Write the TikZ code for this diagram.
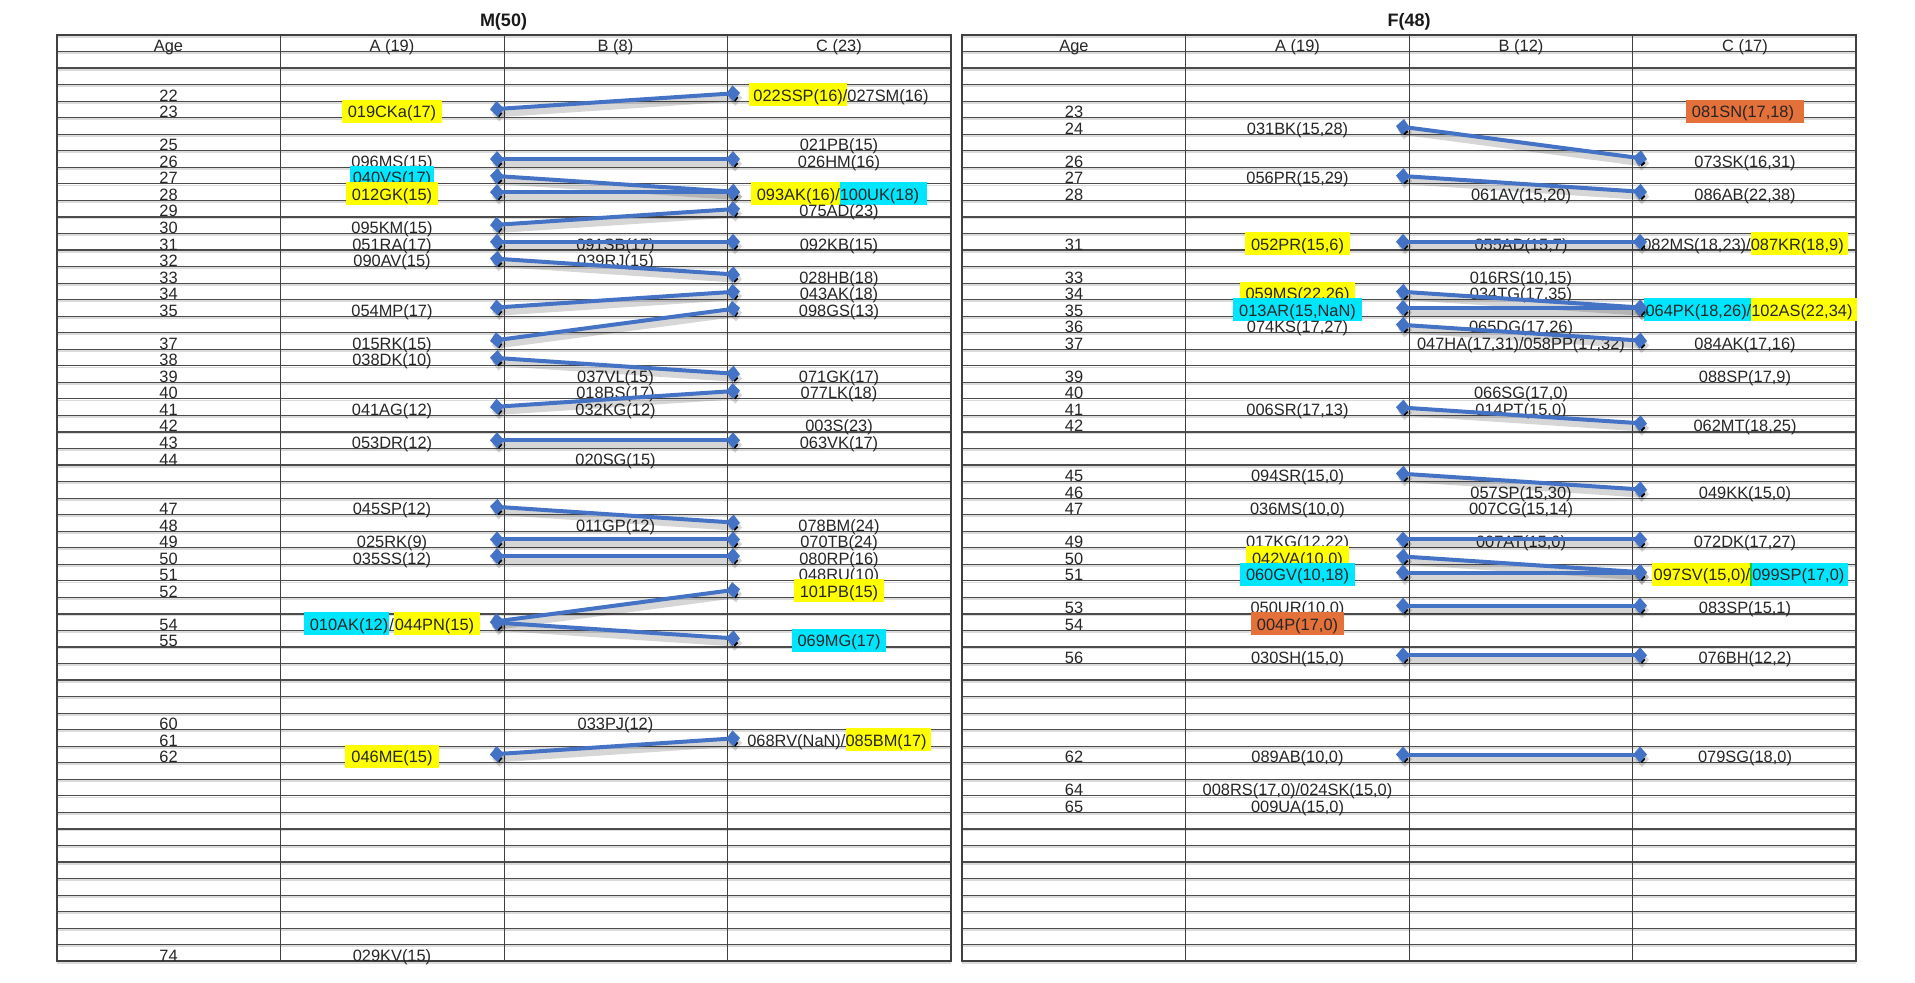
\documentclass[tikz,border=0pt]{standalone}
\usepackage{fontspec}
\setmainfont{Liberation Sans}
\usepackage{tikz}
\usetikzlibrary{arrows.meta}
\definecolor{hlyellow}{RGB}{255,255,0}
\definecolor{hlcyan}{RGB}{0,230,255}
\definecolor{hlorange}{RGB}{228,112,58}
\definecolor{hlgreen}{RGB}{30,200,40}
\definecolor{linkblue}{RGB}{68,114,196}
% highlighted text: colour, left pad, right pad, text
\newcommand{\hlbox}[4]{{\setlength{\fboxsep}{0pt}\colorbox{#1}{\rule[-2.5pt]{0pt}{11.5pt}\hspace{#2}#4\hspace{#3}}}}
\newcommand{\hl}[2]{\hlbox{#1}{3pt}{3pt}{#2}}
% cell text sitting on the bottom rule of the row of an age
\newcommand{\entry}[4]{\node[cell] (#1) at (#2,{35+16.54*(#3-18)}) {#4};}
\tikzset{
  cell/.style={anchor=base, inner sep=0pt, font=\fontsize{8.2}{9}\selectfont, text=black!85},
  title/.style={font=\fontsize{9}{10}\selectfont\bfseries, text=black!90, inner sep=0pt},
  gridrule/.style={draw=black!70, line width=0.6pt,
    preaction={draw=black!14, line width=0.9pt, transform canvas={yshift=-0.8pt}}},
  colrule/.style={draw=black!75, line width=0.5pt},
  frame/.style={draw=black!75, line width=0.9pt},
  link/.style={draw=linkblue, line width=2pt,
    {Diamond[length=7pt,width=8pt]}-{Diamond[length=7pt,width=8pt]},
    preaction={draw=black, draw opacity=0.16, line width=3.6pt,
      transform canvas={xshift=1pt,yshift=-2.3pt}}}
}

\begin{document}
\begin{tikzpicture}[x=0.5pt, y=-0.5pt]
  \useasboundingbox (0,0) rectangle (1915,982);

  % grids of both tables
  \foreach \xo in {57,962} {
    \foreach \i in {0,...,56}
      \draw[gridrule] (\xo,{35+16.54*\i}) -- ({\xo+894},{35+16.54*\i});
    \foreach \j in {1,2,3}
      \draw[colrule] ({\xo+223.5*\j},35) -- ({\xo+223.5*\j},961.2);
    \draw[frame] (\xo,35) rectangle ({\xo+894},961.2);
  }

  % titles and headers
  \node[title] (mtitle) at (503.5,22) {M(50)};
  \node[title] (ftitle) at (1409,22) {F(48)};
  \entry{mhage}{168.5}{19}{Age}
  \entry{mhA}{392}{19}{A (19)}
  \entry{mhB}{615.5}{19}{B (8)}
  \entry{mhC}{839}{19}{C (23)}
  \entry{fhage}{1074}{19}{Age}
  \entry{fhA}{1297.5}{19}{A (19)}
  \entry{fhB}{1521}{19}{B (12)}
  \entry{fhC}{1745}{19}{C (17)}

  % ages
  \foreach \a in {22,23,25,26,27,28,29,30,31,32,33,34,35,37,38,39,40,41,42,43,44,47,48,49,50,51,52,54,55,60,61,62,74} {
    \entry{mage\a}{168.5}{\a}{\a}
  }
  \foreach \a in {23,24,26,27,28,31,33,34,35,36,37,39,40,41,42,45,46,47,49,50,51,53,54,56,62,64,65} {
    \entry{fage\a}{1074}{\a}{\a}
  }

  % M, column A
  \entry{mA23}{392}{23}{\hl{hlyellow}{019CKa(17)}}
  \entry{mA26}{392}{26}{096MS(15)}
  \entry{mA27}{392}{27}{\hlbox{hlcyan}{1.5pt}{1.5pt}{040VS(17)}}
  \entry{mA28}{392}{28}{\hl{hlyellow}{012GK(15)}}
  \entry{mA30}{392}{30}{095KM(15)}
  \entry{mA31}{392}{31}{051RA(17)}
  \entry{mA32}{392}{32}{090AV(15)}
  \entry{mA35}{392}{35}{054MP(17)}
  \entry{mA37}{392}{37}{015RK(15)}
  \entry{mA38}{392}{38}{038DK(10)}
  \entry{mA41}{392}{41}{041AG(12)}
  \entry{mA43}{392}{43}{053DR(12)}
  \entry{mA47}{392}{47}{045SP(12)}
  \entry{mA49}{392}{49}{025RK(9)}
  \entry{mA50}{392}{50}{035SS(12)}
  \entry{mA54}{392}{54}{\hlbox{hlcyan}{3pt}{0.5pt}{010AK(12)}/\hlbox{hlyellow}{0.5pt}{3pt}{044PN(15)}}
  \entry{mA62}{392}{62}{\hl{hlyellow}{046ME(15)}}
  \entry{mA74}{392}{74}{029KV(15)}

  % M, column B
  \entry{mB31}{615.5}{31}{091SB(17)}
  \entry{mB32}{615.5}{32}{039RJ(15)}
  \entry{mB39}{615.5}{39}{037VL(15)}
  \entry{mB40}{615.5}{40}{018BS(17)}
  \entry{mB41}{615.5}{41}{032KG(12)}
  \entry{mB44}{615.5}{44}{020SG(15)}
  \entry{mB48}{615.5}{48}{011GP(12)}
  \entry{mB60}{615.5}{60}{033PJ(12)}

  % M, column C
  \entry{mC22}{839}{22}{\hlbox{hlyellow}{2pt}{0pt}{022SSP(16)/}027SM(16)}
  \entry{mC25}{839}{25}{021PB(15)}
  \entry{mC26}{839}{26}{026HM(16)}
  \entry{mC28}{839}{28}{\hlbox{hlyellow}{3pt}{0pt}{093AK(16)/}\hlbox{hlcyan}{0pt}{4pt}{100UK(18)}}
  \entry{mC29}{839}{29}{075AD(23)}
  \entry{mC31}{839}{31}{092KB(15)}
  \entry{mC33}{839}{33}{028HB(18)}
  \entry{mC34}{839}{34}{043AK(18)}
  \entry{mC35}{839}{35}{098GS(13)}
  \entry{mC39}{839}{39}{071GK(17)}
  \entry{mC40}{839}{40}{077LK(18)}
  \entry{mC42}{839}{42}{003S(23)}
  \entry{mC43}{839}{43}{063VK(17)}
  \entry{mC48}{839}{48}{078BM(24)}
  \entry{mC49}{839}{49}{070TB(24)}
  \entry{mC50}{839}{50}{080RP(16)}
  \entry{mC51}{839}{51}{048RU(10)}
  \entry{mC52}{839}{52}{\hl{hlyellow}{101PB(15)}}
  \entry{mC55}{839}{55}{\hl{hlcyan}{069MG(17)}}
  \entry{mC61}{839}{61}{068RV(NaN)/\hlbox{hlyellow}{0pt}{2pt}{085BM(17)}}

  % F, column A
  \entry{fA24}{1297.5}{24}{031BK(15,28)}
  \entry{fA27}{1297.5}{27}{056PR(15,29)}
  \entry{fA31}{1297.5}{31}{\hl{hlyellow}{052PR(15,6)}}
  \entry{fA34}{1297.5}{34}{\hl{hlyellow}{059MS(22,26)}}
  \entry{fA35}{1297.5}{35}{\hl{hlcyan}{013AR(15,NaN)}}
  \entry{fA36}{1297.5}{36}{074KS(17,27)}
  \entry{fA41}{1297.5}{41}{006SR(17,13)}
  \entry{fA45}{1297.5}{45}{094SR(15,0)}
  \entry{fA47}{1297.5}{47}{036MS(10,0)}
  \entry{fA49}{1297.5}{49}{017KG(12,22)}
  \entry{fA50}{1297.5}{50}{\hl{hlyellow}{042VA(10,0)}}
  \entry{fA51}{1297.5}{51}{\hl{hlcyan}{060GV(10,18)}}
  \entry{fA53}{1297.5}{53}{050UR(10,0)}
  \entry{fA54}{1297.5}{54}{\hl{hlorange}{004P(17,0)}}
  \entry{fA56}{1297.5}{56}{030SH(15,0)}
  \entry{fA62}{1297.5}{62}{089AB(10,0)}
  \entry{fA64}{1297.5}{64}{008RS(17,0)/024SK(15,0)}
  \entry{fA65}{1297.5}{65}{009UA(15,0)}

  % F, column B
  \entry{fB28}{1521}{28}{061AV(15,20)}
  \entry{fB31}{1521}{31}{055AD(15,7)}
  \entry{fB33}{1521}{33}{016RS(10,15)}
  \entry{fB34}{1521}{34}{034TG(17,35)}
  \entry{fB36}{1521}{36}{065DG(17,26)}
  \entry{fB37}{1521}{37}{047HA(17,31)/058PP(17,32)}
  \entry{fB40}{1521}{40}{066SG(17,0)}
  \entry{fB41}{1521}{41}{014PT(15,0)}
  \entry{fB46}{1521}{46}{057SP(15,30)}
  \entry{fB47}{1521}{47}{007CG(15,14)}
  \entry{fB49}{1521}{49}{007AT(15,0)}

  % F, column C
  \entry{fC23}{1745}{23}{\hlbox{hlorange}{3pt}{5pt}{081SN(17,18)}}
  \entry{fC26}{1745}{26}{073SK(16,31)}
  \entry{fC28}{1745}{28}{086AB(22,38)}
  \entry{fC31}{1745}{31}{082MS(18,23)/\hlbox{hlyellow}{0pt}{2pt}{087KR(18,9)}}
  \entry{fC35}{1750}{35}{\hlbox{hlcyan}{1pt}{0pt}{064PK(18,26)/}\hlbox{hlyellow}{0pt}{2pt}{102AS(22,34)}}
  \entry{fC37}{1745}{37}{084AK(17,16)}
  \entry{fC39}{1745}{39}{088SP(17,9)}
  \entry{fC42}{1745}{42}{062MT(18,25)}
  \entry{fC46}{1745}{46}{049KK(15,0)}
  \entry{fC49}{1745}{49}{072DK(17,27)}
  \entry{fC51}{1750}{51}{\hlbox{hlyellow}{1pt}{0pt}{097SV(15,0)/}{\color{hlgreen}\rule[-2.5pt]{1pt}{11.5pt}}\hlbox{hlcyan}{0pt}{2pt}{099SP(17,0)}}
  \entry{fC53}{1745}{53}{083SP(15,1)}
  \entry{fC56}{1745}{56}{076BH(12,2)}
  \entry{fC62}{1745}{62}{079SG(18,0)}

  % links between the A|B and B|C rules
  \foreach \a/\c in {23/22,26/26,27/28,28/28,30/29,31/31,32/33,35/34,37/35,38/39,41/40,43/43,47/48,49/49,50/50,54/52,54/55,62/61} {
    \coordinate (mAB\a) at (490,{43.27+16.54*(\a-19)});
    \coordinate (mBC\c) at (740,{43.27+16.54*(\c-19)});
    \draw[link] (mAB\a) -- (mBC\c);
  }
  \foreach \a/\c in {24/26,27/28,31/31,34/35,35/35,36/37,41/42,45/46,49/49,50/51,51/51,53/53,56/56,62/62} {
    \coordinate (fAB\a) at (1396,{43.27+16.54*(\a-19)});
    \coordinate (fBC\c) at (1647,{43.27+16.54*(\c-19)});
    \draw[link] (fAB\a) -- (fBC\c);
  }
\end{tikzpicture}
\end{document}
